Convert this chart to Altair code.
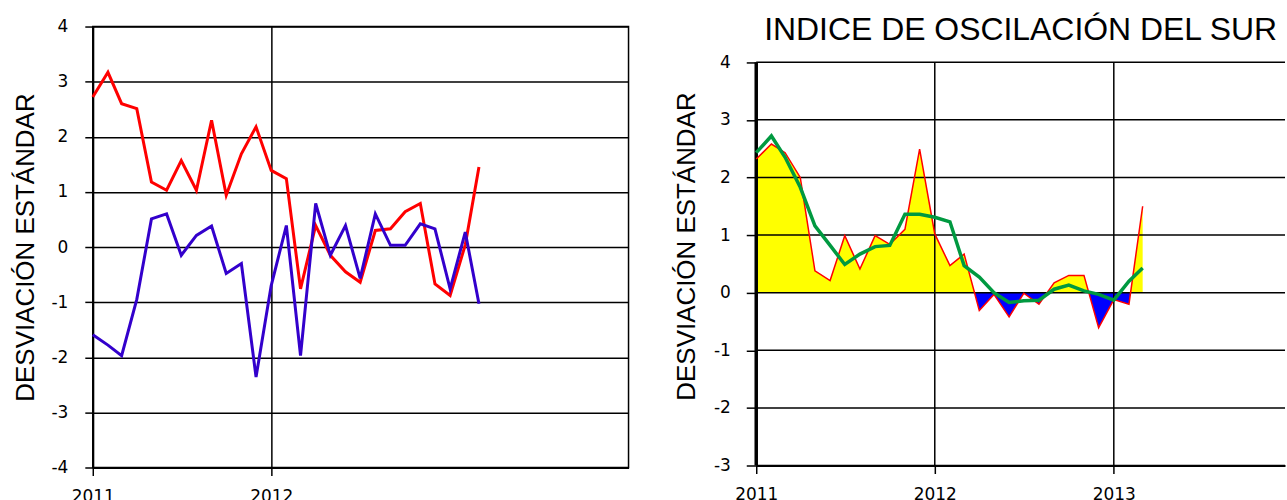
import altair as alt
import pandas as pd

# ---------------- data ----------------
months = [f"{2011 + i // 12}-{i % 12 + 1:02d}-01" for i in range(27)]

left_red = [2.72, 3.17, 2.60, 2.51, 1.18, 1.03, 1.57, 1.03, 2.30, 0.94, 1.69, 2.18,
            1.39, 1.24, -0.76, 0.39, -0.15, -0.45, -0.64, 0.30, 0.33, 0.64, 0.79, -0.67,
            -0.88, 0.04, 1.45]
left_blue = [-1.59, -1.78, -1.97, -0.95, 0.51, 0.60, -0.15, 0.21, 0.38, -0.48, -0.30, -2.36,
             -0.70, 0.39, -1.97, 0.79, -0.15, 0.39, -0.57, 0.60, 0.03, 0.03, 0.42, 0.33,
             -0.76, 0.27, -1.03]

soi = [2.32, 2.58, 2.43, 2.00, 0.38, 0.21, 0.99, 0.41, 0.99, 0.84, 1.10, 2.49,
       1.02, 0.47, 0.67, -0.31, -0.03, -0.42, -0.01, -0.20, 0.17, 0.30, 0.30, -0.61,
       -0.12, -0.20, 1.50]
soi_mean = [2.43, 2.72, 2.35, 1.83, 1.16, 0.82, 0.49, 0.67, 0.80, 0.82, 1.36, 1.36,
            1.31, 1.23, 0.47, 0.27, 0.00, -0.17, -0.14, -0.13, 0.06, 0.13, 0.03, -0.03,
            -0.13, 0.20, 0.43]

y_ticks_left = [-4, -3, -2, -1, 0, 1, 2, 3, 4]
y_ticks_right = [-3, -2, -1, 0, 1, 2, 3, 4]
x_label_years_left = [2011, 2012]
x_label_years_right = [2011, 2012, 2013]
vgrid_right = ["2012-01-01", "2013-01-01"]
left_axis_right = ["2011-01-01"]

FONT = "Liberation Sans"
LABEL_FONT = "DejaVu Sans"
Y_TITLE = "DESVIACIÓN ESTÁNDAR"
TITLE_RIGHT = "INDICE DE OSCILACIÓN DEL SUR"

df_left = pd.DataFrame({"fecha": months, "rojo": left_red, "azul": left_blue})
df_right = pd.DataFrame({"fecha": months, "soi": soi, "media": soi_mean})

# ---------------- left panel ----------------
x_left = alt.X(
    "fecha:T",
    scale=alt.Scale(domain=[alt.DateTime(year=2011, month=1, date=1),
                            alt.DateTime(year=2014, month=1, date=1)], nice=False),
    axis=alt.Axis(values=[alt.DateTime(year=y, month=1, date=1) for y in x_label_years_left],
                  format="%Y", grid=True, title=None, labelPadding=13,
                  labelAngle=0, labelFlush=False),
)
y_axis_left = alt.Axis(values=y_ticks_left, title=Y_TITLE, labelExpr="'' + datum.value",
                       labelPadding=17, titlePadding=12, grid=True)

base_left = alt.Chart(df_left)
red_left = base_left.mark_line(color="#FF0000", strokeWidth=3).encode(
    x=x_left,
    y=alt.Y("rojo:Q", scale=alt.Scale(domain=[-4, 4], nice=False), axis=y_axis_left),
)
blue_left = base_left.mark_line(color="#3300CC", strokeWidth=3).encode(
    x=x_left,
    y=alt.Y("azul:Q"),
)
left = alt.layer(red_left, blue_left).properties(
    width=537, height=442,
    view=alt.ViewBackground(stroke="black", strokeWidth=1.5),
)

# ---------------- right panel ----------------
x_right = alt.X(
    "fecha:T",
    scale=alt.Scale(domain=[alt.DateTime(year=2011, month=1, date=1),
                            alt.DateTime(year=2013, month=12, date=17)], nice=False),
    axis=alt.Axis(values=[alt.DateTime(year=y, month=1, date=1) for y in x_label_years_right],
                  format="%Y", grid=False, title=None, labelPadding=13, labelAngle=0,
                  labelFlush=False),
)
y_scale_right = alt.Scale(domain=[-3, 4.62], nice=False, zero=False)
y_axis_right = alt.Axis(values=y_ticks_right, title=Y_TITLE, labelExpr="'' + datum.value",
                        labelPadding=16, titlePadding=14, grid=False, domain=False,
                        tickSize=10)

vmax = max(soi)
vmin = min(soi)
f = vmax / (vmax - vmin)
fill = alt.LinearGradient(
    gradient="linear", x1=0, y1=0, x2=0, y2=1,
    stops=[alt.GradientStop(offset=0, color="#FFFF00"),
           alt.GradientStop(offset=f, color="#FFFF00"),
           alt.GradientStop(offset=f, color="#0000FF"),
           alt.GradientStop(offset=1, color="#0000FF")],
)

base_right = alt.Chart(df_right)
area = base_right.mark_area(color=fill, interpolate="linear").encode(
    x=x_right,
    y=alt.Y("soi:Q", scale=y_scale_right, axis=y_axis_right),
    y2=alt.datum(0),
)
hgrid = alt.Chart(pd.DataFrame({"v": y_ticks_right})).mark_rule(
    color="black", strokeWidth=1.5).encode(y=alt.Y("v:Q"))
vgrid = alt.Chart(pd.DataFrame({"a": vgrid_right})).mark_rule(
    color="black", strokeWidth=1.5).encode(
    x=alt.X("a:T"), y=alt.datum(-3), y2=alt.datum(4))
laxis = alt.Chart(pd.DataFrame({"a": left_axis_right})).mark_rule(
    color="black", strokeWidth=3.5).encode(
    x=alt.X("a:T"), y=alt.datum(-3), y2=alt.datum(4))
red_right = base_right.mark_line(color="#FF0000", strokeWidth=1.5).encode(
    x=x_right, y=alt.Y("soi:Q"))
green_right = base_right.mark_line(color="#009940", strokeWidth=3.5).encode(
    x=x_right, y=alt.Y("media:Q"))
title_right = alt.Chart(pd.DataFrame({"t": [TITLE_RIGHT]})).mark_text(
    font=FONT, fontSize=32, fontWeight="normal", color="black",
    align="center", baseline="alphabetic",
).encode(text="t:N", x=alt.value(265), y=alt.value(14))

right = alt.layer(area, hgrid, vgrid, laxis, red_right, green_right, title_right).properties(
    width=530, height=440,
)

chart = alt.hconcat(left, right, spacing=43).properties(
    padding={"left": 12, "top": 13, "right": 0, "bottom": 0},
).configure_view(
    stroke="transparent",
).configure_axis(
    labelFont=LABEL_FONT, labelFontSize=17, labelColor="black",
    titleFont=FONT, titleFontSize=26, titleFontWeight="normal", titleColor="black",
    domainColor="black", domainWidth=2,
    tickColor="black", tickWidth=1.5, tickSize=8,
    gridColor="black", gridWidth=1.5, gridOpacity=1,
)

chart.save("out.html", embed_options={"renderer": "svg", "actions": False})
